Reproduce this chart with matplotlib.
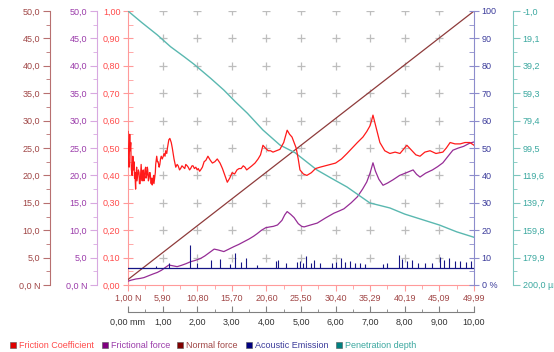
import matplotlib
matplotlib.use("Agg")
import matplotlib.pyplot as plt
import numpy as np
from matplotlib.patches import Rectangle
from matplotlib.ticker import FixedLocator, MultipleLocator

plt.rcParams['font.family'] = ['Liberation Sans', 'DejaVu Sans']
plt.rcParams['font.size'] = 6.5

# ---------------- tick labels ----------------
load_labels = ["1,00 N", "5,90", "10,80", "15,70", "20,60", "25,50",
               "30,40", "35,29", "40,19", "45,09", "49,99"]
dist_labels = ["0,00 mm", "1,00", "2,00", "3,00", "4,00", "5,00",
               "6,00", "7,00", "8,00", "9,00", "10,00"]
mu_labels = ["0,00", "0,10", "0,20", "0,30", "0,40", "0,50",
             "0,60", "0,70", "0,80", "0,90", "1,00"]
force_labels = ["0,0 N", "5,0", "10,0", "15,0", "20,0", "25,0",
                "30,0", "35,0", "40,0", "45,0", "50,0"]
ae_labels = ["0 %", "10", "20", "30", "40", "50", "60", "70", "80", "90", "100"]
depth_labels = ["-1,0", "19,1", "39,2", "59,3", "79,4", "99,5",
                "119,6", "139,7", "159,8", "179,9", "200,0 µm"]
depth_ticks = [-1.0, 19.1, 39.2, 59.3, 79.4, 99.5, 119.6, 139.7, 159.8, 179.9, 200.0]

# ---------------- series (x in mm) ----------------
fc_mm = [0.00, 0.01, 0.02, 0.03, 0.04, 0.05, 0.06, 0.08, 0.09, 0.10, 0.12, 0.13,
         0.14, 0.16, 0.17, 0.19, 0.20, 0.22, 0.23, 0.25, 0.26, 0.28, 0.30, 0.32,
         0.33, 0.35, 0.37, 0.38, 0.40, 0.41, 0.43, 0.44, 0.46, 0.47, 0.49, 0.51,
         0.52, 0.54, 0.56, 0.57, 0.59, 0.61, 0.62, 0.64, 0.66, 0.67, 0.69, 0.70,
         0.72, 0.74, 0.75, 0.77, 0.79, 0.80, 0.83, 0.85, 0.87, 0.90, 0.92, 0.94,
         0.96, 0.99, 1.02, 1.04, 1.07, 1.09, 1.12, 1.14, 1.18, 1.21, 1.25, 1.28,
         1.33, 1.38, 1.42, 1.45, 1.49, 1.52, 1.56, 1.60, 1.64, 1.67, 1.71, 1.74,
         1.78, 1.81, 1.85, 1.88, 1.92, 1.96, 2.00, 2.03, 2.07, 2.10, 2.15, 2.20,
         2.25, 2.31, 2.38, 2.44, 2.51, 2.58, 2.66, 2.73, 2.80, 2.87, 2.94, 3.01,
         3.08, 3.15, 3.21, 3.27, 3.33, 3.38, 3.43, 3.48, 3.53, 3.58, 3.67, 3.76,
         3.83, 3.90, 3.97, 4.05, 4.12, 4.19, 4.29, 4.39, 4.50, 4.60, 4.67, 4.74,
         4.80, 4.86, 4.92, 4.97, 5.07, 5.17, 5.30, 5.42, 5.55, 5.70, 5.84, 6.00,
         6.17, 6.33, 6.48, 6.63, 6.79, 6.90, 6.99, 7.04, 7.08, 7.14, 7.20, 7.28,
         7.42, 7.57, 7.72, 7.86, 7.96, 8.06, 8.21, 8.32, 8.44, 8.58, 8.73, 8.90,
         9.10, 9.20, 9.31, 9.45, 9.60, 9.74, 9.88, 10.00]
fc_mu = [0.56, 0.47, 0.44, 0.43, 0.50, 0.55, 0.49, 0.52, 0.45, 0.42, 0.40, 0.44,
         0.47, 0.42, 0.45, 0.39, 0.41, 0.35, 0.40, 0.43, 0.38, 0.40, 0.42, 0.41,
         0.37, 0.37, 0.42, 0.44, 0.39, 0.38, 0.41, 0.42, 0.38, 0.39, 0.42, 0.43,
         0.39, 0.40, 0.43, 0.42, 0.38, 0.39, 0.41, 0.41, 0.38, 0.37, 0.39, 0.365,
         0.38, 0.40, 0.37, 0.39, 0.41, 0.44, 0.47, 0.45, 0.45, 0.43, 0.44, 0.46,
         0.47, 0.46, 0.47, 0.48, 0.47, 0.49, 0.48, 0.50, 0.53, 0.535, 0.52, 0.50,
         0.46, 0.43, 0.44, 0.435, 0.42, 0.425, 0.435, 0.43, 0.425, 0.44, 0.435, 0.43,
         0.42, 0.425, 0.435, 0.435, 0.425, 0.43, 0.42, 0.425, 0.415, 0.42, 0.43, 0.45,
         0.455, 0.47, 0.455, 0.445, 0.45, 0.46, 0.445, 0.425, 0.40, 0.375, 0.39, 0.41,
         0.405, 0.42, 0.425, 0.425, 0.435, 0.43, 0.42, 0.425, 0.43, 0.435, 0.445, 0.46,
         0.475, 0.51, 0.50, 0.49, 0.49, 0.485, 0.49, 0.495, 0.52, 0.565, 0.55, 0.54,
         0.52, 0.50, 0.46, 0.42, 0.405, 0.40, 0.41, 0.425, 0.43, 0.435, 0.44, 0.445,
         0.46, 0.48, 0.50, 0.52, 0.54, 0.56, 0.58, 0.60, 0.62, 0.59, 0.56, 0.52,
         0.49, 0.48, 0.485, 0.48, 0.495, 0.51, 0.49, 0.475, 0.47, 0.485, 0.49, 0.48,
         0.485, 0.50, 0.52, 0.515, 0.515, 0.52, 0.52, 0.51]

ff_mm = [0.00, 0.10, 0.23, 0.35, 0.46, 0.60, 0.72, 0.85, 0.97, 1.08, 1.18, 1.30,
         1.42, 1.55, 1.68, 1.81, 1.95, 2.10, 2.22, 2.35, 2.49, 2.60, 2.77, 2.90,
         3.06, 3.20, 3.35, 3.50, 3.63, 3.74, 3.86, 3.98, 4.10, 4.20, 4.32, 4.45,
         4.53, 4.60, 4.70, 4.80, 4.92, 5.02, 5.09, 5.25, 5.47, 5.70, 5.95, 6.10,
         6.24, 6.45, 6.63, 6.78, 6.90, 7.00, 7.08, 7.15, 7.25, 7.37, 7.50, 7.66,
         7.85, 8.05, 8.24, 8.34, 8.44, 8.60, 8.80, 8.95, 9.10, 9.25, 9.39, 9.55,
         9.70, 9.88, 10.00]
ff_N = [0.7, 0.9, 1.1, 1.2, 1.35, 1.7, 2.0, 2.3, 2.7, 3.2, 3.65, 3.5,
        3.35, 3.6, 3.9, 4.25, 4.5, 4.85, 5.3, 5.9, 6.55, 6.4, 6.1, 6.5,
        7.0, 7.4, 7.9, 8.4, 8.9, 9.4, 10.0, 10.45, 10.6, 10.7, 10.95, 11.8,
        12.8, 13.4, 12.9, 12.3, 11.2, 10.7, 10.6, 10.9, 11.3, 12.2, 13.1, 13.5,
        13.9, 15.0, 16.1, 17.5, 18.8, 20.5, 22.3, 20.8, 19.3, 18.2, 18.6, 19.2,
        20.0, 20.5, 21.0, 20.2, 19.7, 20.4, 21.0, 21.6, 22.3, 23.5, 24.6, 25.0,
        25.3, 25.9, 26.1]

nf_mm = [0.0, 10.0]
nf_N = [1.00, 49.99]

ae_base = 6.3
ae_spike_mm = [0.80, 1.18, 1.79, 2.00, 2.41, 2.65, 2.95, 3.09, 3.27, 3.40,
               3.74, 4.27, 4.34, 4.56, 4.89, 4.97, 5.06, 5.15, 5.28, 5.38,
               5.55, 5.90, 6.01, 6.16, 6.27, 6.42, 6.56, 6.71, 6.85, 7.37,
               7.49, 7.83, 7.92, 8.06, 8.21, 8.38, 8.58, 8.79, 9.02, 9.13,
               9.28, 9.45, 9.60, 9.77, 9.91]
ae_spike_pct = [7.0, 7.9, 14.6, 7.9, 9.1, 9.4, 7.6, 11.6, 8.5, 9.7,
                7.2, 8.7, 9.1, 7.9, 8.5, 8.7, 8.2, 10.6, 7.9, 9.1,
                8.0, 7.9, 8.5, 9.7, 8.3, 8.6, 7.9, 8.2, 7.8, 7.8,
                8.2, 10.9, 9.5, 8.8, 9.0, 8.2, 7.9, 8.2, 10.3, 9.2,
                9.7, 8.8, 8.9, 8.4, 8.6]

pd_mm = [0.00, 0.40, 0.85, 1.23, 1.62, 1.91, 2.39, 2.77, 3.10, 3.45, 3.90,
         4.39, 4.83, 5.35, 5.46, 5.90, 6.33, 6.99, 7.57, 8.00, 8.50, 9.00,
         9.50, 10.00]
pd_um = [-1.0, 7.5, 16.6, 25.2, 32.5, 38.1, 48.4, 57.0, 65.5, 74.0, 86.3,
         97.3, 103.0, 113.4, 115.6, 122.0, 128.1, 139.8, 143.5, 148.0, 152.0,
         156.0, 161.0, 165.0]

# ---------------- colours ----------------
c_fc, c_fc_txt, c_fc_sp = '#FF1A1A', '#FF4B4B', '#FF9A9A'
c_ff, c_ff_txt, c_ff_sp = '#962D96', '#9B3CAA', '#D8A8E0'
c_nf, c_nf_txt, c_nf_sp = '#8E3B3B', '#A04646', '#B87070'
c_ae, c_ae_txt, c_ae_sp = '#151585', '#3C3C9B', '#8C8CCC'
c_pd, c_pd_txt, c_pd_sp = '#5AB8B0', '#3CA8A0', '#7CC6BE'

# ---------------- layout (pixel geometry) ----------------
W, H = 554, 352
L, R, T, B = 128, 474, 11, 285
fig = plt.figure(figsize=(W / 100, H / 100), dpi=100)
ax = fig.add_axes([L / W, 1 - B / H, (R - L) / W, (B - T) / H])


def frac_x(px):
    return (px - L) / (R - L)


def only_spine(a, name):
    for s in ['top', 'bottom', 'left', 'right']:
        a.spines[s].set_visible(s == name)


# main axes: friction coefficient (left, at plot edge) + load along bottom
only_spine(ax, 'left')
ax.spines['bottom'].set_visible(True)
ax.spines['left'].set_color(c_fc_sp)
ax.spines['bottom'].set_color(c_fc_sp)
ax.set_xlim(0, 10)
ax.set_ylim(0, 1)
ax.xaxis.set_major_locator(FixedLocator(range(11)))
ax.xaxis.set_minor_locator(MultipleLocator(0.5))
ax.set_xticklabels(load_labels)
ax.tick_params(axis='x', which='both', direction='out', color=c_fc_sp,
               labelcolor=c_nf_txt, pad=2.5)
ax.tick_params(axis='x', which='major', length=4)
ax.tick_params(axis='x', which='minor', length=3)
ax.yaxis.set_major_locator(MultipleLocator(0.1))
ax.yaxis.set_minor_locator(MultipleLocator(0.05))
ax.set_yticks(np.arange(0, 1.01, 0.1))
ax.set_yticklabels(mu_labels)
ax.tick_params(axis='y', which='major', direction='inout', length=7,
               color=c_fc_sp, labelcolor=c_fc_txt, pad=2)
ax.tick_params(axis='y', which='minor', direction='in', length=3.5, color=c_fc_sp)

# grid crosses
gx, gy = np.meshgrid(np.arange(1, 10), np.arange(0.1, 1.01, 0.1))
ax.plot(gx.ravel(), gy.ravel(), '+', ms=6, mew=0.9, color='#BDBDBD', zorder=1)

# distance axis below
ax_mm = ax.twiny()
only_spine(ax_mm, 'bottom')
ax_mm.xaxis.tick_bottom()
ax_mm.spines['bottom'].set_position(('axes', -(312 - B) / (B - T)))
ax_mm.spines['bottom'].set_color('#808080')
ax_mm.set_xlim(0, 10)
ax_mm.xaxis.set_major_locator(FixedLocator(range(11)))
ax_mm.xaxis.set_minor_locator(MultipleLocator(0.5))
ax_mm.set_xticklabels(dist_labels)
ax_mm.tick_params(axis='x', which='both', direction='in', color='#808080',
                  labelcolor='#333333', pad=4)
ax_mm.tick_params(axis='x', which='major', length=4)
ax_mm.tick_params(axis='x', which='minor', length=2.5)

# normal force axis (far left)
ax_nf = ax.twinx()
only_spine(ax_nf, 'left')
ax_nf.yaxis.tick_left()
ax_nf.spines['left'].set_position(('axes', frac_x(50)))
ax_nf.spines['left'].set_color(c_nf_sp)
ax_nf.set_ylim(0, 50)
ax_nf.yaxis.set_major_locator(FixedLocator(np.arange(0, 51, 5)))
ax_nf.yaxis.set_minor_locator(MultipleLocator(2.5))
ax_nf.set_yticklabels(force_labels)
ax_nf.tick_params(axis='y', which='both', direction='out', color=c_nf_sp,
                  labelcolor=c_nf_txt, pad=2)
ax_nf.tick_params(axis='y', which='major', length=5)
ax_nf.tick_params(axis='y', which='minor', length=3)

# frictional force axis
ax_ff = ax.twinx()
only_spine(ax_ff, 'left')
ax_ff.yaxis.tick_left()
ax_ff.spines['left'].set_position(('axes', frac_x(97)))
ax_ff.spines['left'].set_color(c_ff_sp)
ax_ff.set_ylim(0, 50)
ax_ff.yaxis.set_major_locator(FixedLocator(np.arange(0, 51, 5)))
ax_ff.yaxis.set_minor_locator(MultipleLocator(2.5))
ax_ff.set_yticklabels(force_labels)
ax_ff.tick_params(axis='y', which='both', direction='out', color=c_ff_sp,
                  labelcolor=c_ff_txt, pad=2)
ax_ff.tick_params(axis='y', which='major', length=5)
ax_ff.tick_params(axis='y', which='minor', length=3)

# acoustic emission axis (right plot edge)
ax_ae = ax.twinx()
only_spine(ax_ae, 'right')
ax_ae.spines['right'].set_color(c_ae_sp)
ax_ae.set_ylim(0, 100)
ax_ae.yaxis.set_major_locator(FixedLocator(np.arange(0, 101, 10)))
ax_ae.yaxis.set_minor_locator(MultipleLocator(5))
ax_ae.set_yticklabels(ae_labels)
ax_ae.tick_params(axis='y', which='major', direction='inout', length=7,
                  color=c_ae_sp, labelcolor=c_ae_txt, pad=2)
ax_ae.tick_params(axis='y', which='minor', direction='in', length=3.5, color=c_ae_sp)

# penetration depth axis (far right, inverted)
ax_pd = ax.twinx()
only_spine(ax_pd, 'right')
ax_pd.spines['right'].set_position(('axes', frac_x(513)))
ax_pd.spines['right'].set_color(c_pd_sp)
ax_pd.set_ylim(200, -1)
ax_pd.yaxis.set_major_locator(FixedLocator(depth_ticks))
ax_pd.yaxis.set_minor_locator(FixedLocator(np.array(depth_ticks[:-1]) + 10.05))
ax_pd.set_yticklabels(depth_labels)
ax_pd.tick_params(axis='y', which='both', direction='out', color=c_pd_sp,
                  labelcolor=c_pd_txt, pad=2)
ax_pd.tick_params(axis='y', which='major', length=5)
ax_pd.tick_params(axis='y', which='minor', length=3)

# ---------------- series ----------------
ax_nf.plot(nf_mm, nf_N, color=c_nf, lw=0.9)
ax_pd.plot(pd_mm, pd_um, color=c_pd, lw=1.0)
ax_ae.plot([0, 10], [ae_base, ae_base], color=c_ae, lw=0.9)
ax_ae.vlines(ae_spike_mm, ae_base, ae_spike_pct, color=c_ae, lw=0.8)
ax_ff.plot(ff_mm, ff_N, color=c_ff, lw=0.9)
ax_fc = ax.twinx()
only_spine(ax_fc, 'none')
ax_fc.set_ylim(0, 1)
ax_fc.set_yticks([])
ax_fc.plot(fc_mm, fc_mu, color=c_fc, lw=0.9)

# ---------------- legend ----------------
legend_items = [
    (10, 19, '#E00000', c_fc_txt, 'Friction Coefficient'),
    (102, 111, '#800080', c_ff_txt, 'Frictional force'),
    (177, 186, '#800000', c_nf_txt, 'Normal force'),
    (246, 255, '#000080', c_ae_txt, 'Acoustic Emission'),
    (336, 345, '#008080', c_pd_txt, 'Penetration depth'),
]
for sx, tx, sq, tc, name in legend_items:
    fig.add_artist(Rectangle((sx / W, 1 - 348 / H), 6 / W, 6 / H,
                             transform=fig.transFigure, facecolor=sq,
                             edgecolor='#555555', lw=0.4))
    fig.text(tx / W, 1 - 345 / H, name, color=tc, va='center', ha='left',
             fontsize=6.5)

fig.savefig('out.png', dpi=100)
